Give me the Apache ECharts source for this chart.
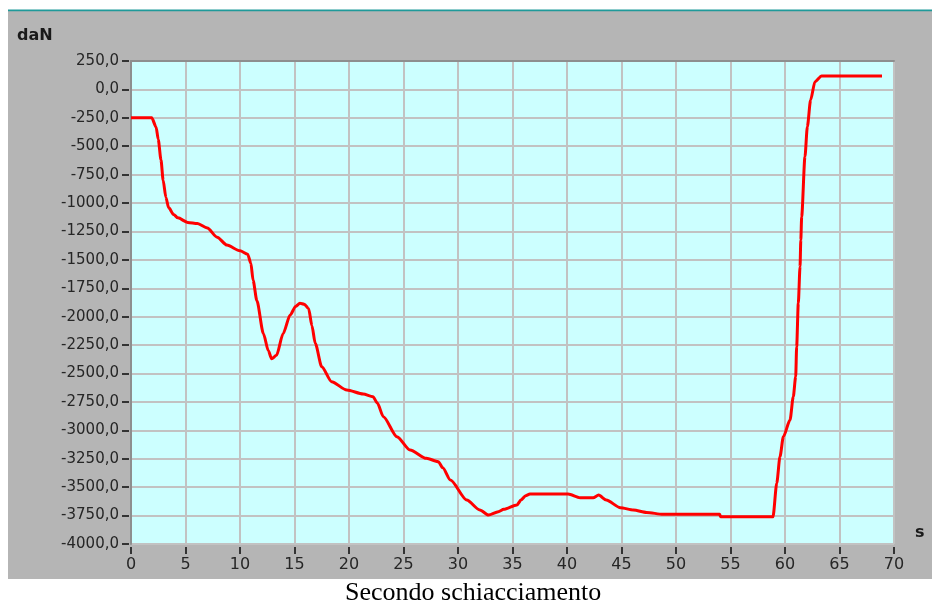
<!DOCTYPE html>
<html>
<head>
<meta charset="utf-8">
<script src="https://cdn.jsdelivr.net/npm/echarts@6/dist/echarts.min.js"></script>
<style>
html,body{margin:0;padding:0;background:#ffffff;}
#chart{width:932px;height:607px;}
</style>
</head>
<body>
<div id="chart"></div>
<script>
// Time (s)
var times = [0, 1.9, 2.3, 2.5, 2.75, 2.95, 3.2, 3.45, 3.9, 4.3, 5.2, 6.1, 7.0, 7.9, 8.8, 10.0, 10.7, 11.0, 11.2, 11.55,
  12.15, 12.6, 12.9, 13.35, 13.95, 14.6, 15.1, 15.5, 15.9, 16.3, 16.6, 16.9, 17.5, 18.4, 19.8, 21.3, 22.2, 22.6, 23.15, 24.4,
  25.6, 27.1, 28.2, 28.6, 29.3, 30.8, 32.0, 32.8, 33.7, 34.2, 35.4, 35.8, 36.2, 36.6, 40.1, 41.2, 42.4, 42.9, 43.6, 44.9,
  46.1, 47.3, 48.8, 54.0, 54.1, 58.9, 59.24, 59.54, 59.85, 60.46, 60.76, 60.98, 61.07, 61.22, 61.38, 61.45, 61.53, 61.83, 62.05, 62.35,
  62.75, 63.36, 68.9];
// Force (daN)
var forces = [-250, -250, -330, -440, -620, -800, -950, -1040, -1100, -1130, -1170, -1180, -1220, -1300, -1370, -1420, -1450, -1530, -1680, -1860,
  -2150, -2300, -2370, -2340, -2150, -1985, -1910, -1882, -1890, -1930, -2080, -2234, -2440, -2572, -2645, -2680, -2704, -2760, -2880, -3056,
  -3173, -3246, -3276, -3330, -3437, -3613, -3700, -3745, -3716, -3695, -3657, -3610, -3575, -3560, -3560, -3593, -3593, -3569, -3613, -3681,
  -3701, -3722, -3739, -3739, -3760, -3760, -3466, -3232, -3056, -2909, -2704, -2528, -2264, -1882, -1560, -1325, -1120, -592, -328, -93,
  68, 118, 118];

var yAxisUnit = 'daN';
var xAxisUnit = 's';
var caption = 'Secondo schiacciamento';

var pairs = times.map(function (t, i) { return [t, forces[i]]; });

var chart = echarts.init(document.getElementById('chart'), null, { renderer: 'canvas' });
chart.setOption({
  animation: false,
  backgroundColor: '#ffffff',
  graphic: [
    { type: 'rect', z: -10, shape: { x: 8, y: 10, width: 924, height: 569 }, style: { fill: '#b5b5b5' } },
    { type: 'rect', z: -9, shape: { x: 8, y: 9.5, width: 924, height: 1.8 }, style: { fill: '#1f9a9a' } },
    { type: 'text', left: 17, top: 28, style: { text: yAxisUnit, font: 'bold 16px "DejaVu Sans"', fill: '#1a1a1a' } },
    { type: 'text', left: 915, top: 525, style: { text: xAxisUnit, font: 'bold 16px "DejaVu Sans"', fill: '#1a1a1a' } },
    { type: 'text', left: 345, top: 580, style: { text: caption, font: '26px "Liberation Serif"', fill: '#000000' } }
  ],
  grid: {
    left: 131, top: 61, right: 38, bottom: 63,
    show: true, backgroundColor: '#ccffff', borderWidth: 0
  },
  xAxis: [{
    type: 'value', min: 0, max: 70, interval: 5, position: 'bottom', offset: 3,
    axisLine: { show: false, onZero: false },
    axisTick: { show: true, length: 7, lineStyle: { color: '#333333', width: 2 } },
    axisLabel: { margin: 10, fontFamily: 'DejaVu Sans', fontSize: 16, color: '#262626' },
    splitLine: { show: true, lineStyle: { color: '#c2c2c2', width: 2 } }
  }, {
    type: 'value', min: 0, max: 70, interval: 5, position: 'top',
    axisLine: { show: true, onZero: false, lineStyle: { color: '#8e8e8e', width: 2 } },
    axisTick: { show: false }, axisLabel: { show: false }, splitLine: { show: false }
  }],
  yAxis: [{
    type: 'value', min: -4000, max: 250, interval: 250, position: 'left', offset: 2,
    axisLine: { show: false, onZero: false },
    axisTick: { show: true, length: 7, lineStyle: { color: '#333333', width: 2 } },
    axisLabel: {
      margin: 10, fontFamily: 'DejaVu Sans', fontSize: 15, color: '#262626',
      formatter: function (v) { return v.toFixed(1).replace('.', ','); }
    },
    splitLine: { show: true, lineStyle: { color: '#c2c2c2', width: 2 } }
  }, {
    type: 'value', min: -4000, max: 250, interval: 250, position: 'left',
    axisLine: { show: true, onZero: false, lineStyle: { color: '#8e8e8e', width: 2 } },
    axisTick: { show: false }, axisLabel: { show: false }, splitLine: { show: false }
  }],
  series: [{
    type: 'line',
    data: pairs,
    showSymbol: false,
    symbol: 'none',
    smooth: 0.25,
    smoothMonotone: 'x',
    lineStyle: { color: '#ff0000', width: 3 },
    z: 5
  }]
});
</script>
</body>
</html>
